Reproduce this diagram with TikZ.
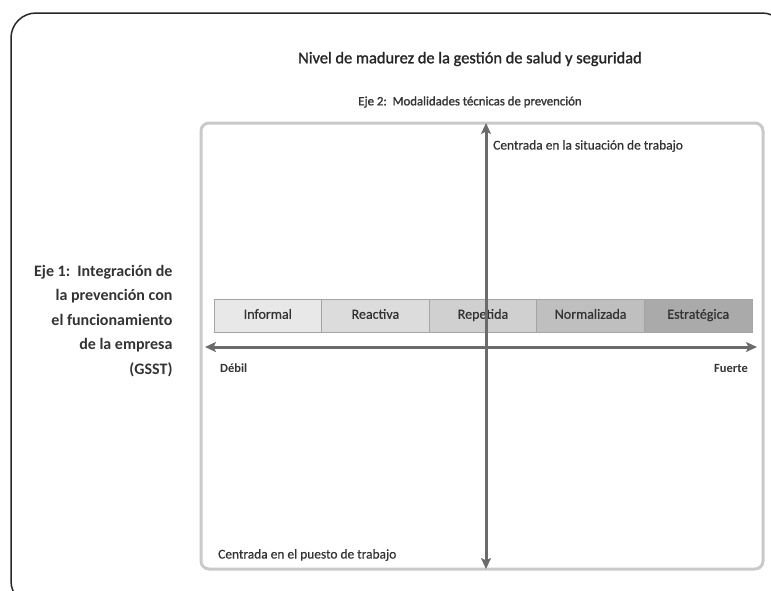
\documentclass[tikz,border=0pt]{standalone}
\usepackage{fontspec}
\setmainfont{Carlito}
\newfontfamily\medfont[FakeBold=1.4]{Carlito}
\newfontfamily\plainfont[FakeBold=0.6]{Carlito}
\usetikzlibrary{arrows.meta,positioning}
\definecolor{framegray}{HTML}{C9C9C9}
\definecolor{axisgray}{HTML}{6B6B6B}
\definecolor{inkdark}{HTML}{333333}
\definecolor{cellline}{HTML}{A5A5A5}
\definecolor{levelA}{HTML}{E8E8E8}
\definecolor{levelB}{HTML}{DCDCDC}
\definecolor{levelC}{HTML}{D0D0D0}
\definecolor{levelD}{HTML}{BFBFBF}
\definecolor{levelE}{HTML}{AAAAAA}

\begin{document}
\begin{tikzpicture}[x=1pt,y=-1pt,
    level/.style={draw=cellline, line width=0.8pt, minimum width=107.6pt,
      minimum height=33pt, inner sep=0pt, outer sep=0pt, text=inkdark,
      text height=9.5pt, text depth=3pt,
      font=\fontsize{14}{16}\plainfont},
    axis/.style={axisgray, line width=3pt,
      {Stealth[length=11pt,width=10pt,inset=2.5pt]}-{Stealth[length=11pt,width=10pt,inset=2.5pt]}},
    lbl/.style={text=inkdark, inner sep=0pt, font=\fontsize{13.4}{16}\plainfont},
    poletag/.style={text=inkdark, inner sep=0pt, font=\fontsize{12.5}{15}\selectfont\bfseries}]
  \useasboundingbox (0,0) rectangle (771,590);
  \clip (0,0) rectangle (771,590);
  % outer frame, cut by the page
  \draw[black!85, line width=1.5pt, rounded corners=25pt] (11,13) rectangle (787,606);
  % titles
  \node[text=black!85, font=\fontsize{16.4}{19}\medfont] (title) at (470,59)
      {Nivel de madurez de la gestión de salud y seguridad};
  \node[text=inkdark, font=\fontsize{12.8}{15}\medfont] (axistwo) at (470,102)
      {Eje 2:\ \ Modalidades técnicas de prevención};
  % panel
  \draw[framegray, line width=3pt, rounded corners=8pt] (201,123) rectangle (763,569);
  % maturity levels
  \node[level, fill=levelA, anchor=north west] (informal) at (214,299) {Informal};
  \node[level, fill=levelB, right=0pt of informal] (reactiva) {Reactiva};
  \node[level, fill=levelC, right=0pt of reactiva] (repetida) {Repetida};
  \node[level, fill=levelD, right=0pt of repetida] (normalizada) {Normalizada};
  \node[level, fill=levelE, right=0pt of normalizada] (estrategica) {Estratégica};
  % axes
  \coordinate (weak) at (205,347);
  \coordinate (strong) at (757,347);
  \coordinate (situation) at (486,123);
  \coordinate (post) at (486,569);
  \draw[axis] (weak) -- (strong);
  \draw[axis] (post) -- (situation);
  % axis labels
  \node[lbl, anchor=west] (sitlabel) at (493,146) {Centrada en la situación de trabajo};
  \node[lbl, anchor=west] (postlabel) at (218,555) {Centrada en el puesto de trabajo};
  \node[poletag, anchor=west] (debil) at (220,368) {Débil};
  \node[poletag, anchor=east] (fuerte) at (748,368) {Fuerte};
  \node[text=inkdark, align=right, anchor=east,
      font=\fontsize{16}{24.5}\selectfont\bfseries] (axisone) at (176,321)
      {Eje 1:\ \ Integración de\\la prevención con\\el funcionamiento\\de la empresa\\(GSST)};
\end{tikzpicture}
\end{document}
